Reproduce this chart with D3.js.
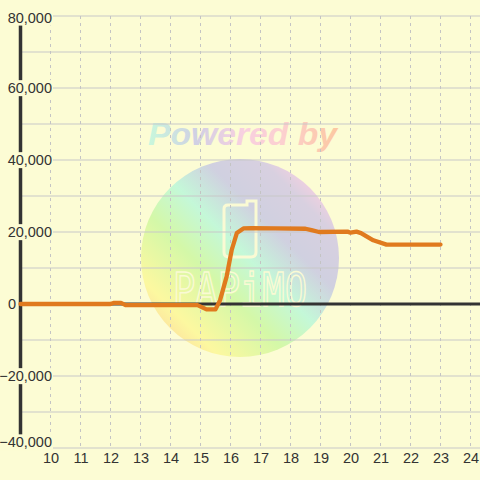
<!DOCTYPE html>
<html>
<head>
<meta charset="utf-8">
<script src="https://cdn.jsdelivr.net/npm/d3@7/dist/d3.min.js"></script>
<style>
  html, body { margin: 0; padding: 0; background: #fcfcd4; }
  svg { display: block; }
</style>
</head>
<body>
<script>
// ---- data ----
const hours  = [9, 12.0, 12.1, 12.35, 12.5, 14.9, 15.2, 15.5, 15.65, 15.87, 16.04, 16.21, 16.43, 16.7, 17.5, 18.5, 18.7, 18.95, 19.9, 20.0, 20.2, 20.35, 20.76, 21.2, 23.0];
const values = [0, 0, 300, 300, -300, -300, -1500, -1500, 1000, 7600, 15000, 19700, 21000, 21100, 21000, 20900, 20500, 20000, 20100, 19800, 20100, 19700, 17700, 16500, 16500];
const xTicks = [10, 11, 12, 13, 14, 15, 16, 17, 18, 19, 20, 21, 22, 23, 24];
const yLabelTicks = [-40000, -20000, 0, 20000, 40000, 60000, 80000];
const yGridTicks = [-40000, -30000, -20000, -10000, 0, 10000, 20000, 30000, 40000, 50000, 60000, 70000, 80000];

const W = 480, H = 480, BG = "#fcfcd4";
const svg = d3.select("body").append("svg").attr("width", W).attr("height", H);

const x = d3.scaleLinear().domain([9, 24]).range([20.5, 470.5]);
const y = d3.scaleLinear().domain([-40000, 80000]).range([448, 16]);

svg.append("rect").attr("width", W).attr("height", H).attr("fill", BG);

// ---- watermark ----
const defs = svg.append("defs");
const cg = defs.append("linearGradient").attr("id", "cg")
  .attr("x1", "0").attr("y1", "1").attr("x2", "1").attr("y2", "0");
[["0", "#fcc49c"], ["0.2", "#fcf8a0"], ["0.38", "#d4f8a8"], ["0.52", "#c4f8d8"],
 ["0.66", "#d0d0e0"], ["0.8", "#d8d0e0"], ["0.9", "#fcd0e0"], ["1", "#fcd0e0"]]
  .forEach(([o, c]) => cg.append("stop").attr("offset", o).attr("stop-color", c));
const tg = defs.append("linearGradient").attr("id", "tg")
  .attr("x1", "0").attr("y1", "0").attr("x2", "1").attr("y2", "0");
[["0", "#c8f8dc"], ["0.25", "#d0d0e4"], ["0.5", "#f8d0e0"], ["0.7", "#fcd0d0"], ["1", "#fcc8a0"]]
  .forEach(([o, c]) => tg.append("stop").attr("offset", o).attr("stop-color", c));

const wm = svg.append("g");
wm.append("circle").attr("cx", 240).attr("cy", 258).attr("r", 99).attr("fill", "url(#cg)");
wm.append("text").attr("x", 148).attr("y", 145)
  .attr("textLength", 189).attr("lengthAdjust", "spacingAndGlyphs")
  .style("font-family", "Liberation Sans, Arial, sans-serif")
  .style("font-weight", "bold").style("font-style", "italic").style("font-size", "31px")
  .attr("fill", "url(#tg)").text("Powered by");
wm.append("path")
  .attr("d", "M228,205 L247,205 L247,201 L256,201 L256,252 Q256,257 251,257 L229,257 Q224,257 224,252 L224,209 Q224,205 228,205 Z")
  .attr("fill", "none").attr("stroke", "#fafad4").attr("stroke-width", 3);
wm.append("text").attr("x", 173).attr("y", 306)
  .attr("textLength", 134).attr("lengthAdjust", "spacingAndGlyphs")
  .style("font-family", "DejaVu Sans Mono, monospace").style("font-size", "46px")
  .attr("fill", "none").attr("stroke", "#fafad4").attr("stroke-width", 1.6)
  .text("PAPiMO");

// ---- grid ----
svg.append("g").selectAll("line").data(yGridTicks).join("line")
  .attr("x1", 21).attr("x2", W)
  .attr("y1", d => y(d)).attr("y2", d => y(d))
  .attr("stroke", "#c8c8c8").attr("stroke-width", 1);
svg.append("g").selectAll("line").data(xTicks).join("line")
  .attr("x1", d => x(d)).attr("x2", d => x(d))
  .attr("y1", y(80000)).attr("y2", y(-40000))
  .attr("stroke", "#c4c4c4").attr("stroke-width", 1).attr("stroke-dasharray", "3,4");

// zero line
svg.append("line").attr("x1", x(9)).attr("x2", W).attr("y1", y(0)).attr("y2", y(0))
  .attr("stroke", "#333333").attr("stroke-width", 3);
// y axis line
svg.append("line").attr("x1", x(9)).attr("x2", x(9)).attr("y1", y(80000)).attr("y2", y(-40000))
  .attr("stroke", "#333333").attr("stroke-width", 3.5);

// ---- series ----
const pts = hours.map((h, i) => [h, values[i]]);
svg.append("path").datum(pts)
  .attr("d", d3.line().x(d => x(d[0])).y(d => y(d[1])))
  .attr("fill", "none").attr("stroke", "#e07a1e").attr("stroke-width", 4.3)
  .attr("stroke-linejoin", "round").attr("stroke-linecap", "round");

// ---- axes labels ----
const fmt = d3.format(",");
const yAx = svg.append("g").attr("transform", "translate(52,0)")
  .call(d3.axisLeft(y).tickValues(yLabelTicks).tickSize(0).tickPadding(0).tickFormat(fmt));
yAx.select(".domain").remove();
yAx.selectAll(".tick").each(function(d) {
  const g = d3.select(this);
  const t = g.select("text")
    .style("font-family", "Liberation Sans, Arial, sans-serif").style("font-size", "14.5px")
    .attr("fill", "#333333");
  if (d === 0) t.attr("x", -36);
  if (d === -40000) t.attr("dy", "-0.08em");
  if (d === 80000) t.attr("dy", "0.42em");
  const bb = t.node().getBBox();
  g.insert("rect", "text").attr("x", bb.x - 1).attr("y", bb.y).attr("width", bb.width + 2)
    .attr("height", bb.height).attr("fill", BG);
});

const xAx = svg.append("g").attr("transform", "translate(0,453)")
  .call(d3.axisBottom(x).tickValues(xTicks).tickSize(0).tickPadding(0).tickFormat(d3.format("d")));
xAx.select(".domain").remove();
xAx.selectAll("text")
  .style("font-family", "Liberation Sans, Arial, sans-serif").style("font-size", "14.5px")
  .attr("fill", "#333333");
</script>
</body>
</html>
